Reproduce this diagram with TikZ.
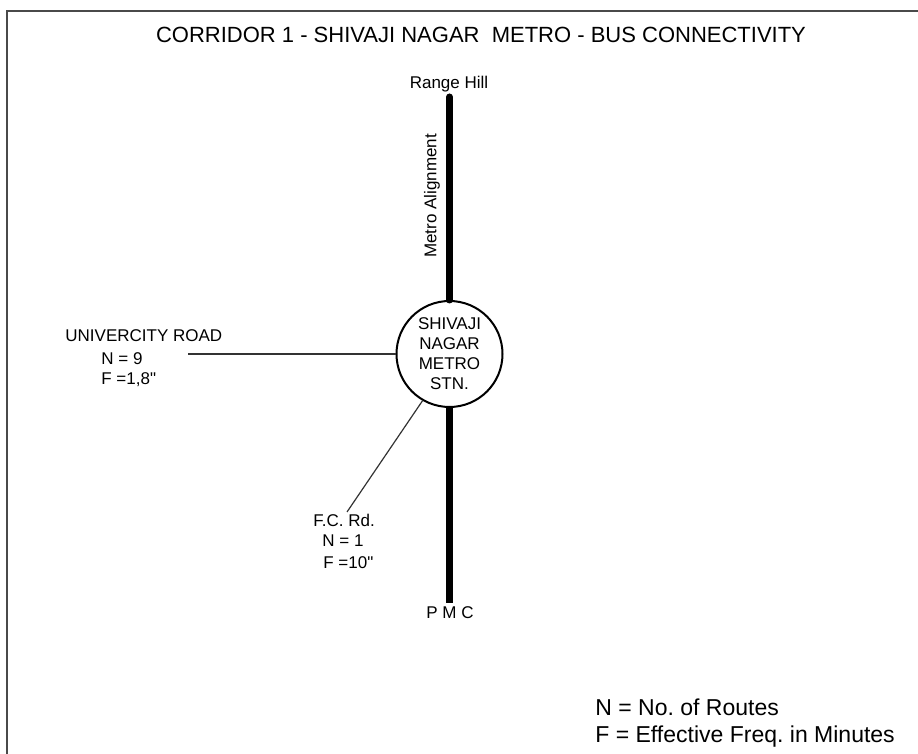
\documentclass[tikz,border=0pt]{standalone}
\usepackage{fontspec}
\setmainfont{Liberation Sans}
\usepackage{tikz}
\usetikzlibrary{positioning}
\definecolor{framegray}{HTML}{4A4A4A}
\definecolor{roadline}{HTML}{333333}
\frenchspacing

\begin{document}
\begin{tikzpicture}[x=0.5pt,y=-0.5pt]
\tikzstyle{lbl}=[inner sep=0pt,anchor=base west,font=\fontsize{8.5}{10}\selectfont]
\tikzstyle{metroline}=[line width=3.5pt]
\tikzstyle{road}=[draw=roadline,line width=0.6pt]
\useasboundingbox (0,0) rectangle (918,754);
% frame
\draw[framegray,line width=1pt] (7,754) -- (7,11) -- (918,11);
\node[inner sep=0pt,anchor=base,font=\fontsize{11}{13}\selectfont] (title) at (481,43) {CORRIDOR 1 - SHIVAJI NAGAR\ \ METRO - BUS CONNECTIVITY};
% station and metro alignment
\node[draw,circle,line width=1pt,minimum size=53pt,inner sep=0pt,align=center,font=\fontsize{8.5}{10}\selectfont] (stn) at (449.5,354) {SHIVAJI\\NAGAR\\METRO\\STN.};
\coordinate (rhend) at (449.5,97);
\coordinate (pmcend) at (449.5,603);
\draw[metroline,line cap=round] (rhend) -- (stn.north);
\draw[metroline] (stn.south) -- (pmcend);
\node[lbl,anchor=base] (rh) at (449,89) {Range Hill};
\node[lbl,anchor=base] (pmc) at (450,619) {P M C};
\node[lbl,anchor=center,rotate=90] (alignlbl) at (432,196) {Metro Alignment};
% university road
\coordinate (univend) at (188,354);
\draw[road] (univend) -- (stn.west);
\node[lbl] (univ) at (65,342) {UNIVERCITY ROAD};
\node[lbl] (univn) at (101,365) {N = 9};
\node[lbl] (univf) at (101,385) {F =1,8\textquotedbl};
% f.c. road
\coordinate (fcend) at (347,512);
\draw[road] (fcend) -- (stn.240);
\node[lbl] (fc) at (313,527) {F.C. Rd.};
\node[lbl] (fcn) at (322,547) {N = 1};
\node[lbl] (fcf) at (323,569) {F =10\textquotedbl};
% legend
\node[lbl,font=\fontsize{11.5}{13.5}\selectfont] (legn) at (595,716) {N = No. of Routes};
\node[lbl,font=\fontsize{11.5}{13.5}\selectfont] (legf) at (595,743) {F = Effective Freq. in Minutes};
\end{tikzpicture}
\end{document}
